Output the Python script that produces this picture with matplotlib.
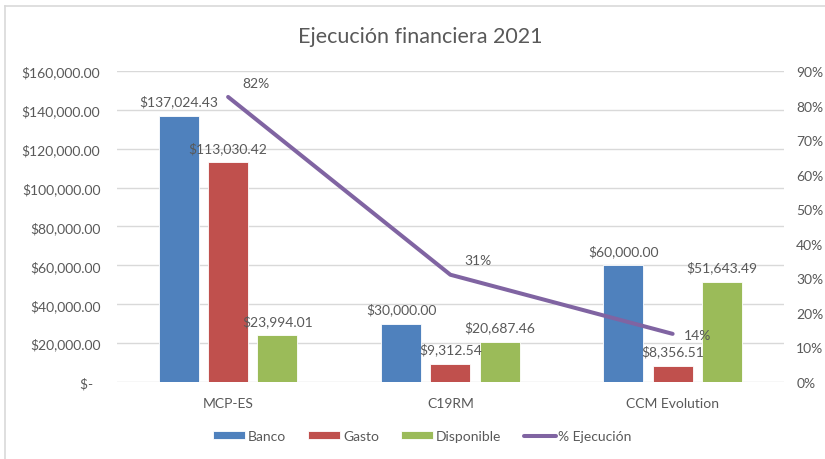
import numpy as np
import matplotlib
matplotlib.use("Agg")
import matplotlib.pyplot as plt
import matplotlib.ticker as mtick
from matplotlib.lines import Line2D

plt.rcParams["font.family"] = ["Lato", "DejaVu Sans"]

# ── DATA ──────────────────────────────────────────────────────────────────────
categories = ["MCP-ES", "C19RM", "CCM Evolution"]
banco      = [137024.43, 30000.00, 60000.00]
gasto      = [113030.42, 9312.54, 8356.51]
disponible = [23994.01, 20687.46, 51643.49]
ejecucion  = [0.8249, 0.3104, 0.1393]
pct_labels = ["82%", "31%", "14%"]

# ── STYLE ─────────────────────────────────────────────────────────────────────
C_BANCO, C_GASTO, C_DISP, C_LINE = "#4F81BD", "#C0504D", "#9BBB59", "#8064A2"
TXT = "#595959"
GRID = "#D9D9D9"

fig = plt.figure(figsize=(8.25, 4.6), dpi=100)
ax = fig.add_axes([0.1418, 0.1674, 0.8082, 0.6761])
ax2 = ax.twinx()

x = np.arange(len(categories))
w, step = 0.18, 0.222
series = [("Banco", banco, C_BANCO, -step),
          ("Gasto", gasto, C_GASTO, 0.0),
          ("Disponible", disponible, C_DISP, step)]

handles = []
for name, vals, col, off in series:
    b = ax.bar(x + off, vals, width=w, color=col, edgecolor="white",
               linewidth=0.6, label=name, zorder=2)
    handles.append(b)
    for xi, v in zip(x + off, vals):
        ax.annotate(f"${v:,.2f}", (xi, v), xytext=(0, 6), textcoords="offset points",
                    ha="center", va="bottom", fontsize=10, color=TXT, zorder=4)

ln, = ax2.plot(x, ejecucion, color=C_LINE, linewidth=2.9,
               solid_capstyle="round", label="% Ejecución", zorder=3)
handles.append(ln)
label_offsets = [(10, 6), (10, 6), (8, -1)]
for xi, v, t, off in zip(x, ejecucion, pct_labels, label_offsets):
    ax2.annotate(t, (xi, v), xytext=off, textcoords="offset points",
                 ha="left", va="bottom" if off[1] > 0 else "center",
                 fontsize=10, color=TXT)

# axes
ax.set_xlim(-0.5, 2.5)
ax.set_ylim(0, 160000)
ax.yaxis.set_major_locator(mtick.MultipleLocator(20000))
ax.yaxis.set_major_formatter(mtick.FuncFormatter(
    lambda v, _: "$-  " if v == 0 else f"${v:,.2f}"))
ax2.set_ylim(0, 0.9)
ax2.yaxis.set_major_locator(mtick.MultipleLocator(0.1))
ax2.yaxis.set_major_formatter(mtick.PercentFormatter(1.0, decimals=0))

ax.set_xticks(x)
ax.set_xticklabels(categories)
ax.grid(axis="y", color=GRID, linewidth=1, zorder=0)
ax.set_axisbelow(True)
for a in (ax, ax2):
    for s in a.spines.values():
        s.set_visible(False)
    a.tick_params(length=0, labelsize=10, labelcolor=TXT)
ax.tick_params(axis="y", pad=12)
ax.tick_params(axis="x", pad=11)
ax2.tick_params(axis="y", pad=9)

fig.text(0.51, 0.92, "Ejecución financiera 2021", ha="center", va="center",
         fontsize=15.5, color=TXT)

fig.legend(handles=handles, labels=["Banco", "Gasto", "Disponible", "% Ejecución"],
           loc="center", bbox_to_anchor=(0.512, 0.05), ncol=4, frameon=False,
           fontsize=10, labelcolor=TXT, handlelength=2.3, handleheight=0.45,
           handletextpad=0.2, columnspacing=1.6)

# chart frame (left and top edges visible in the crop)
fig.add_artist(Line2D([0.006, 0.006], [0.0, 0.985], transform=fig.transFigure,
                      color=GRID, linewidth=1.2))
fig.add_artist(Line2D([0.006, 1.0], [0.985, 0.985], transform=fig.transFigure,
                      color=GRID, linewidth=1.2))

fig.savefig("out.png", dpi=100)
